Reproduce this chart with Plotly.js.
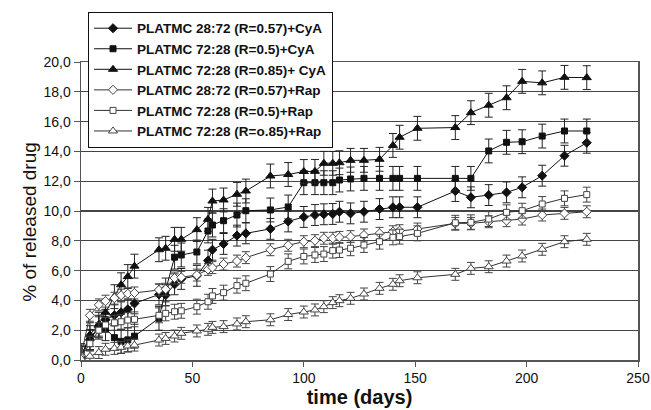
<!DOCTYPE html>
<html>
<head>
<meta charset="utf-8">
<script src="https://cdn.plot.ly/plotly-3.0.1.min.js"></script>
<style>html,body{margin:0;padding:0;background:#fff;}#chart{width:651px;height:410px;}</style>
</head>
<body>
<div id="chart"></div>
<script>
// time points (days)
const days = [0, 4, 8, 11, 15, 18, 21, 24, 35, 38, 42, 45, 52, 57, 59, 64, 70, 74, 85, 93, 100, 105, 109, 113, 116, 121, 127, 134, 140, 143, 151, 168, 175, 183, 191, 198, 207, 217, 227];

const seriesNames = [
  "PLATMC 28:72 (R=0.57)+CyA",
  "PLATMC 72:28 (R=0.5)+CyA",
  "PLATMC 72:28 (R=0.85)+ CyA",
  "PLATMC 28:72 (R=0.57)+Rap",
  "PLATMC 72:28 (R=0.5)+Rap",
  "PLATMC 72:28 (R=o.85)+Rap"
];

const cya057 = [0.2, 1.35, 2.2, 2.7, 3.0, 3.2, 3.4, 3.8, 4.4, 4.35, 5.08, 5.44, 5.65, 6.67, 7.4, 7.79, 8.35, 8.5, 8.8, 9.3, 9.6, 9.73, 9.78, 9.8, 9.95, 9.84, 9.95, 10.13, 10.25, 10.25, 10.25, 11.34, 10.92, 11.07, 11.25, 11.59, 12.37, 13.71, 14.58];
const cya05 = [0.3, 1.5, 2.2, 2.1, 1.5, 1.25, 1.35, 1.6, 2.8, 4.7, 6.9, 7.05, 7.25, 8.66, 9.06, 9.35, 9.73, 10.02, 10.07, 10.27, 11.9, 11.9, 11.9, 11.9, 12.08, 12.15, 12.19, 12.19, 12.19, 12.19, 12.19, 12.19, 12.19, 14.03, 14.61, 14.65, 15.03, 15.37, 15.37];
const cya085 = [0.2, 1.7, 2.4, 3.2, 4.25, 5.05, 5.6, 6.3, 7.4, 7.5, 8.1, 8.1, 8.75, 9.44, 10.67, 10.74, 11.12, 11.34, 12.35, 12.45, 12.65, 12.66, 13.2, 13.2, 13.24, 13.4, 13.4, 13.47, 14.4, 14.95, 15.55, 15.6, 16.6, 17.1, 17.6, 18.7, 18.6, 18.97, 18.95];
const rap057 = [0.3, 3.0, 3.7, 3.95, 4.15, 4.35, 4.45, 4.5, 4.7, 4.75, 5.5, 5.55, 5.7, 6.08, 6.2, 6.44, 6.64, 6.87, 7.4, 7.7, 7.94, 8.01, 8.17, 8.17, 8.23, 8.28, 8.39, 8.5, 8.61, 8.68, 8.79, 9.17, 9.17, 9.28, 9.35, 9.46, 9.73, 9.84, 9.95];
const rap05 = [0.2, 1.1, 2.0, 2.35, 2.5, 2.57, 2.68, 2.73, 3.0, 3.13, 3.24, 3.3, 3.58, 3.91, 4.3, 4.52, 4.99, 5.15, 5.77, 6.62, 6.95, 7.05, 7.11, 7.34, 7.38, 7.5, 7.72, 7.94, 8.23, 8.28, 8.5, 9.21, 9.24, 9.46, 9.91, 10.02, 10.47, 10.85, 11.1];
const rap085 = [0.1, 0.25, 0.5, 0.72, 0.78, 0.85, 0.94, 1.0, 1.34, 1.45, 1.61, 1.79, 1.95, 2.06, 2.19, 2.24, 2.42, 2.57, 2.7, 3.05, 3.22, 3.36, 3.58, 3.85, 3.98, 4.14, 4.43, 4.81, 5.08, 5.32, 5.52, 5.75, 6.15, 6.26, 6.64, 6.98, 7.43, 7.94, 8.1];

// error bar half-widths per series (% released)
const errCya057 = [0.7];
const errCya05 = [0.8];
const errCya085 = [0.8];
const errRap057 = [0.4];
const errRap05 = [0.5];
const errRap085 = [0.4];

const yTicks = [0, 2, 4, 6, 8, 10, 12, 14, 16, 18, 20];
const xTicks = [0, 50, 100, 150, 200, 250];
const yTitle = '% of released drug';
const xTitle = 'time (days)';

const seriesValues = [cya057, cya05, cya085, rap057, rap05, rap085];
const seriesErr = [errCya057, errCya05, errCya085, errRap057, errRap05, errRap085];
const markerStyles = [
  {symbol: 'diamond', size: 7, color: '#111', line: {color: '#111', width: 1}},
  {symbol: 'square', size: 6, color: '#111', line: {color: '#111', width: 1}},
  {symbol: 'triangle-up', size: 8, color: '#111', line: {color: '#111', width: 1}},
  {symbol: 'diamond', size: 7, color: '#fff', line: {color: '#444', width: 1}},
  {symbol: 'square', size: 6, color: '#fff', line: {color: '#444', width: 1}},
  {symbol: 'triangle-up', size: 8, color: '#fff', line: {color: '#444', width: 1}}
];

const traces = seriesValues.map((vals, i) => ({
  type: 'scatter',
  mode: 'lines+markers',
  name: seriesNames[i],
  x: days,
  y: vals,
  line: {color: i < 3 ? '#111' : '#333', width: 1},
  marker: markerStyles[i],
  error_y: {type: 'constant', value: seriesErr[i][0], color: i < 3 ? '#222' : '#444', thickness: 1, width: 4}
}));

const layout = {
  width: 651,
  height: 410,
  margin: {l: 81, r: 13, t: 62, b: 50},
  paper_bgcolor: '#fff',
  plot_bgcolor: '#fff',
  separators: ',.',
  font: {family: 'Liberation Sans, Arial, sans-serif', color: '#111', size: 14},
  showlegend: true,
  legend: {
    x: 0.0126, y: 1.168, xanchor: 'left', yanchor: 'top',
    bgcolor: '#fff', bordercolor: '#111', borderwidth: 1,
    itemwidth: 38,
    font: {family: 'Liberation Sans, Arial, sans-serif', size: 13.5, weight: 'bold', color: '#111'},
    tracegroupgap: 0
  },
  xaxis: {
    range: [0, 250],
    tickvals: xTicks,
    ticks: 'outside', ticklen: 5, tickcolor: '#555',
    showline: true, linecolor: '#555', linewidth: 1.5, mirror: true,
    showgrid: false, zeroline: false,
    tickfont: {size: 14, color: '#111'},
    title: {text: xTitle, font: {size: 20, weight: 'bold', color: '#111'}, standoff: 0}
  },
  yaxis: {
    range: [0, 20],
    tickvals: yTicks,
    tickformat: '.1f',
    ticks: 'outside', ticklen: 6, tickcolor: '#555',
    showline: true, linecolor: '#555', linewidth: 1.5, mirror: true,
    showgrid: true, gridcolor: '#444', gridwidth: 1.3, zeroline: false,
    tickfont: {size: 14, color: '#111'}
  },
  annotations: [{
    text: yTitle, xref: 'paper', yref: 'paper',
    x: -0.094, y: 0.463, xanchor: 'center', yanchor: 'middle',
    textangle: -90, showarrow: false,
    font: {size: 19, color: '#111', family: 'Liberation Sans, Arial, sans-serif'}
  }]
};

Plotly.newPlot('chart', traces, layout, {displayModeBar: false, staticPlot: true});
</script>
</body>
</html>
